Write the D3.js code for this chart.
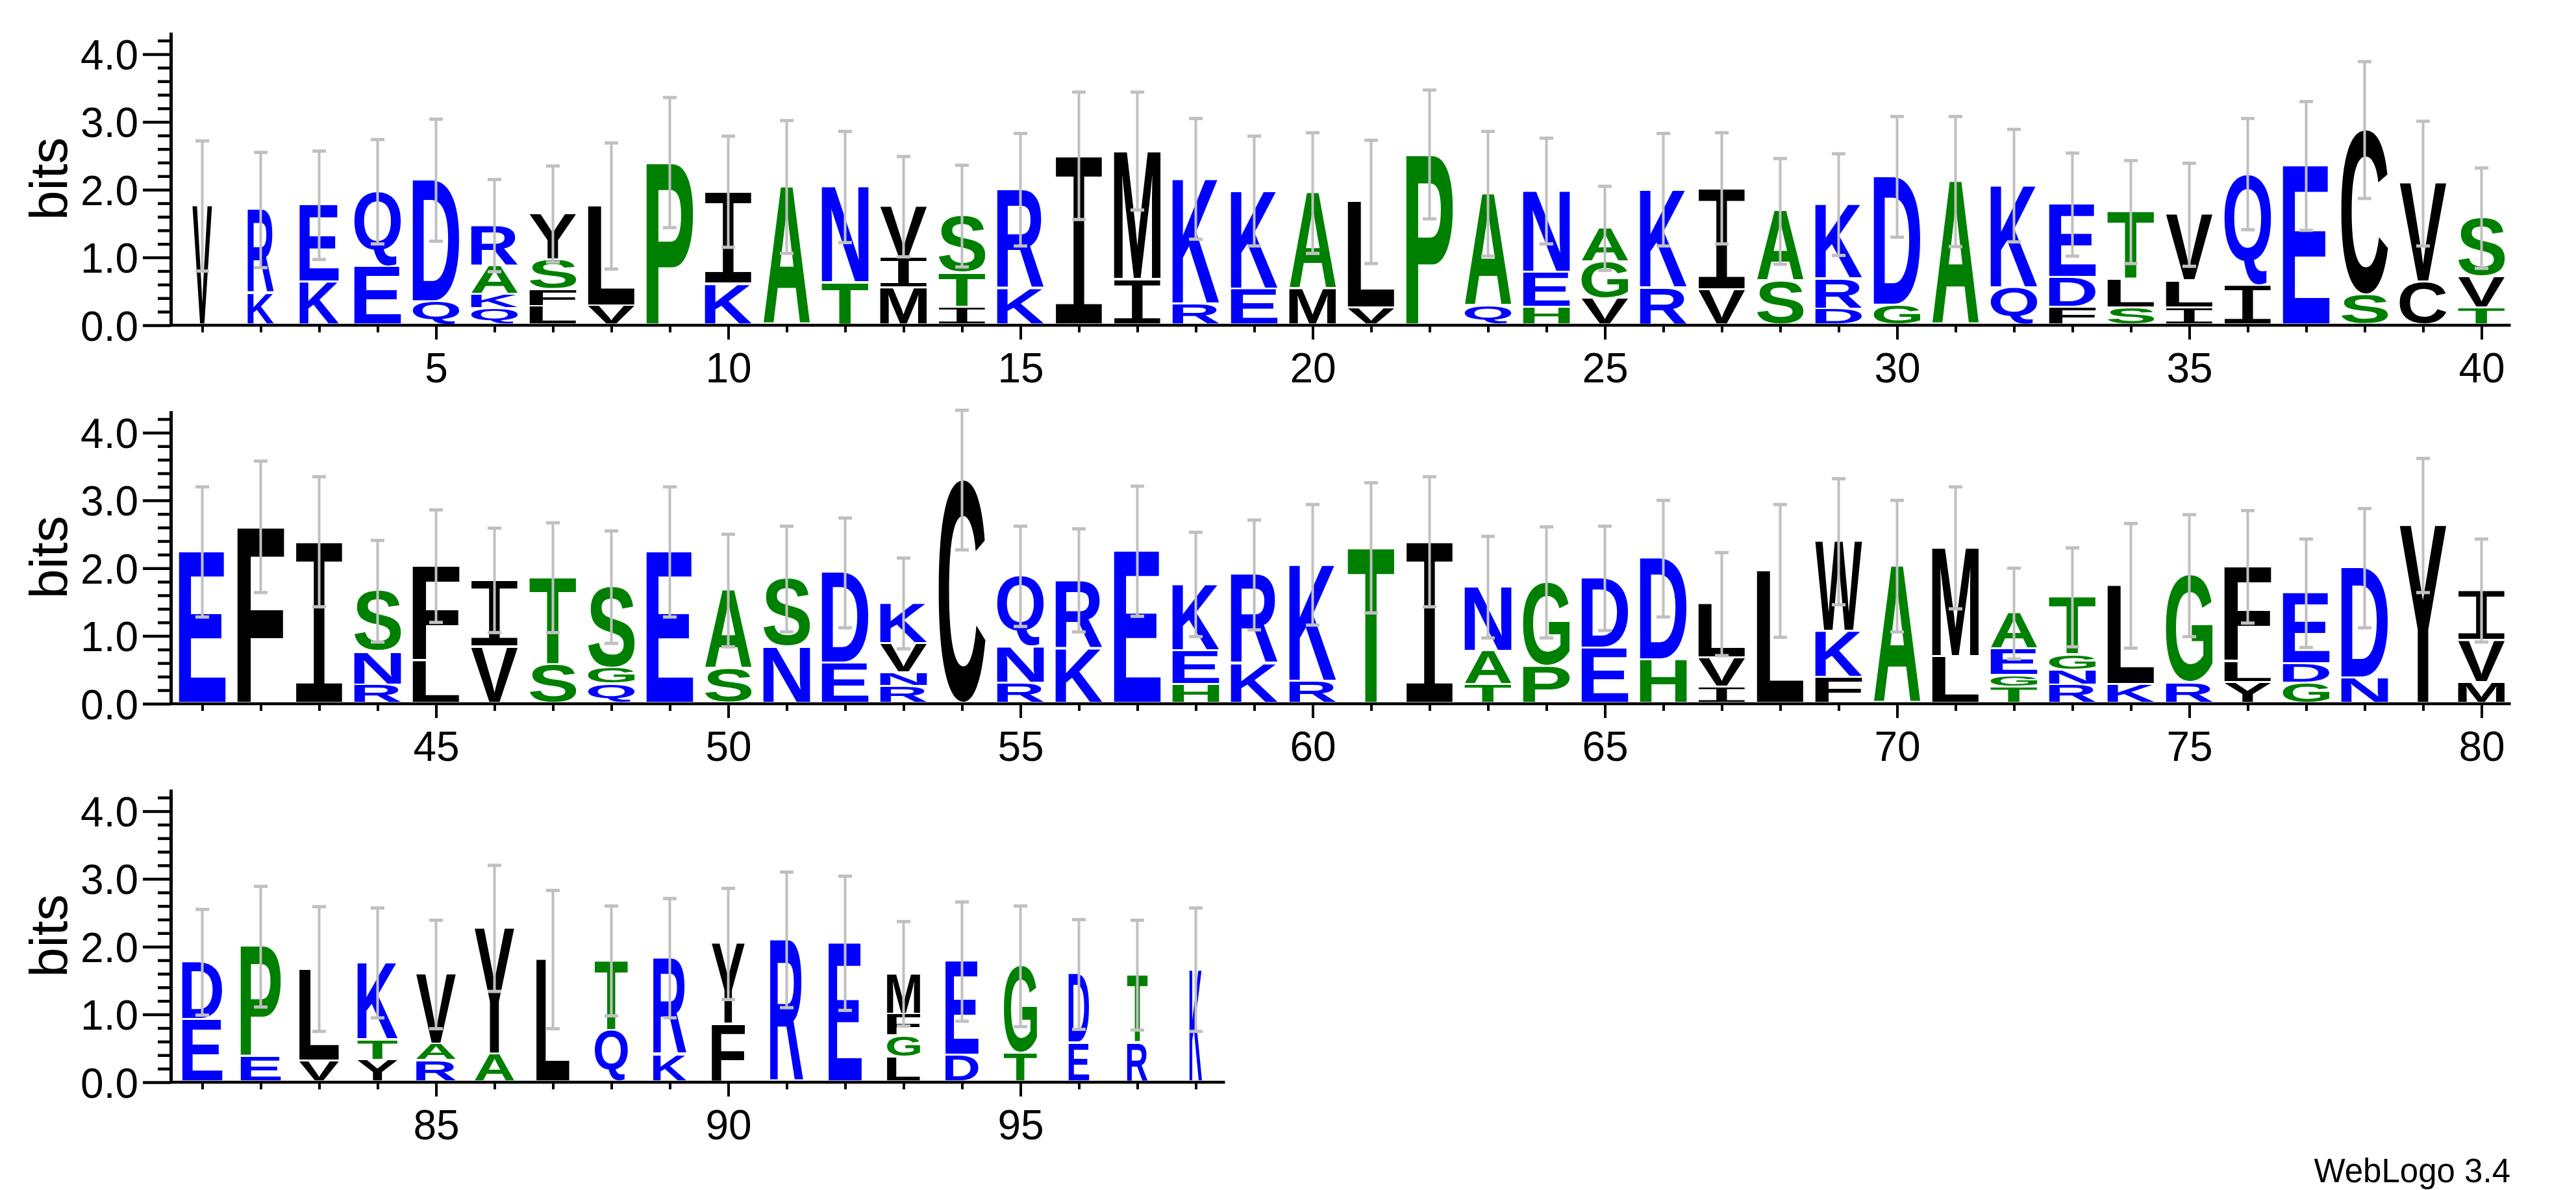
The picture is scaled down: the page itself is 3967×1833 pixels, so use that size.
<!DOCTYPE html>
<html>
<head>
<meta charset="utf-8">
<script src="https://cdn.jsdelivr.net/npm/d3@7"></script>
<style>
  body { margin: 0; background: #fff; }
  svg { display: block; }
</style>
</head>
<body>
<div id="logo"></div>
<script>
// letters of each stack, bottom to top
var stackLetters = [
  "V","KR","KE","EQ","QD","QKAR","LFSY","VL","P","KI",
  "A","TN","MIV","ITS","KR","I","IM","RK","EK","MA",
  "VL","P","QA","HEN","VGA","RK","VI","SA","DRK","GD",
  "A","QK","FDE","SLT","ILV","IQ","E","SC","CV","TVS",
  "E","F","I","RNS","LF","VI","ST","QGS","E","SA",
  "NS","ED","RNVK","C","RNQ","KR","E","HEK","KR","RK",
  "T","I","TAN","PG","ED","HD","IVL","L","FKW","A",
  "LM","TGEA","RNGT","KL","RG","YLF","GDE","ND","Y","MVI",
  "ED","EP","VL","YTK","RAV","AY","L","QT","KR","FY",
  "R","E","LGFM","DE","TG","ED","RT","K"
];

// bits per letter, same order
var stackBits = [
  [1.76],[0.46,1.24],[0.63,1.14],[0.86,1.11],[0.34,1.80],
  [0.24,0.21,0.42,0.60],[0.27,0.25,0.44,0.68],[0.28,1.48],[2.40],[0.60,1.37],
  [2.04],[0.62,1.42],[0.55,0.45,0.75],[0.26,0.50,0.85],[0.54,1.46],
  [2.50],[0.67,1.90],[0.31,1.85],[0.53,1.45],[0.53,1.42],
  [0.25,1.57],[2.52],[0.28,1.66],[0.26,0.52,1.20],[0.39,0.54,0.50],
  [0.55,1.45],[0.52,1.50],[0.64,1.04],[0.23,0.45,1.10],[0.29,1.90],
  [2.12],[0.55,1.51],[0.26,0.44,1.08],[0.25,0.42,1.00],[0.25,0.40,0.98],
  [0.58,1.65],[2.35],[0.44,2.44],[0.63,1.46],[0.25,0.46,0.87],
  [2.24],[2.61],[2.39],[0.27,0.49,0.90],[0.63,1.40],
  [0.83,0.99],[0.57,1.29],[0.28,0.24,1.20],[2.24],[0.51,1.16],
  [0.83,1.01],[0.59,1.34],[0.25,0.20,0.43,0.60],[3.30],[0.30,0.53,1.05],
  [0.81,1.01],[2.25],[0.28,0.50,0.98],[0.58,1.32],[0.33,1.72],
  [2.30],[2.39],[0.27,0.50,0.95],[0.55,1.24],[0.81,1.04],
  [0.64,1.50],[0.24,0.43,0.80],[1.96],[0.38,0.68,1.33],[2.03],
  [0.69,1.61],[0.24,0.17,0.39,0.53],[0.27,0.22,0.23,0.85],[0.28,1.46],[0.30,1.59],
  [0.31,0.31,1.40],[0.30,0.28,1.05],[0.37,1.63],[2.63],[0.31,0.62,0.74],
  [0.92,0.85],[0.37,1.63],[0.31,1.36],[0.32,0.30,1.14],[0.31,0.25,1.03],
  [0.41,1.86],[1.81],[0.76,1.03],[0.40,1.43],[0.85,1.19],
  [2.10],[2.05],[0.36,0.32,0.32,0.60],[0.39,1.39],[0.42,1.29],
  [0.57,1.02],[0.57,1.01],[1.66]
];

// error bar half-length in bits
var errorBits = [
  0.96,0.85,0.80,0.77,0.90,0.68,0.71,0.93,0.96,0.82,
  0.98,0.82,0.74,0.75,0.83,0.94,0.87,0.89,0.81,0.89,
  0.91,0.95,0.92,0.78,0.62,0.83,0.82,0.78,0.75,0.89,
  0.96,0.83,0.76,0.76,0.76,0.82,0.95,1.01,0.92,0.74,
  0.96,0.97,0.96,0.75,0.83,0.77,0.81,0.83,0.96,0.83,
  0.78,0.81,0.67,1.03,0.74,0.76,0.96,0.77,0.81,0.89,
  0.96,0.96,0.75,0.82,0.77,0.86,0.76,0.98,0.93,0.97,
  0.90,0.67,0.73,0.92,0.90,0.83,0.80,0.88,0.99,0.76,
  0.78,0.89,0.92,0.81,0.80,0.93,1.02,0.81,0.88,0.82,
  1.00,0.99,0.77,0.88,0.89,0.81,0.81,0.91
];

// stack width as fraction of a full column (gapped columns are narrower)
var stackWidths = [
  0.42,0.56,0.84,1,1,1,1,1,1,1, 1,1,1,1,1,1,1,1,1,1,
  1,1,1,1,1,1,1,1,1,1, 1,1,1,1,1,1,1,1,1,1,
  1,1,1,1,1,1,1,1,1,1, 1,1,1,1,1,1,1,1,1,1,
  1,1,1,1,1,1,1,1,1,1, 1,1,1,1,1,1,1,1,1,1,
  0.86,0.86,0.85,0.86,0.85,0.85,0.71,0.71,0.71,0.71,
  0.71,0.71,0.71,0.71,0.71,0.44,0.44,0.27
];

var rowStarts = [1, 41, 81];
var yMajorTicks = [0, 1, 2, 3, 4];
var maxBits = Math.log2(20);

// hydrophobicity colour scheme
var hydrophilic = "RKDENQ", neutral = "SGHTAP";
function letterColor(c) {
  if (hydrophilic.indexOf(c) >= 0) return "#0000ff";
  if (neutral.indexOf(c) >= 0) return "#008000";
  return "#000000";
}

// layout
var width = 3967, height = 1833;
var axisX = 263, firstSlot = 266.5, slotW = 90, glyphW = 72;
var baselines = [501, 1084, 1667];
var bitPx = 104.4;
var gap = 3;
var labelFont = "Liberation Sans";

var svg = d3.select("#logo").append("svg")
    .attr("width", width)
    .attr("height", height)
    .style("background", "#fff");

// I gets a serif face with a thin stem, like the WebLogo glyph
function glyphFont(c) { return c === "I" ? "Liberation Mono" : "Liberation Sans"; }
function glyphWeight(c) { return c === "I" ? "normal" : "bold"; }

// ink bounds of each glyph, so letters can be stretched to fill their box
var ctx = document.createElement("canvas").getContext("2d");
var boxes = {};
function inkBox(c) {
  if (!boxes[c]) {
    ctx.font = glyphWeight(c) + " 200px '" + glyphFont(c) + "'";
    var m = ctx.measureText(c);
    boxes[c] = { l: -m.actualBoundingBoxLeft, r: m.actualBoundingBoxRight,
                 t: -m.actualBoundingBoxAscent, b: m.actualBoundingBoxDescent };
  }
  return boxes[c];
}

rowStarts.forEach(function(start, r) {
  var end = Math.min(start + 39, stackLetters.length);
  var base = baselines[r];

  var x = d3.scaleLinear()
      .domain([start - 0.5, end + 0.5])
      .range([firstSlot, firstSlot + (end - start + 1) * slotW]);
  var y = d3.scaleLinear()
      .domain([0, maxBits])
      .range([base, base - maxBits * bitPx]);

  var row = svg.append("g");
  var positions = d3.range(start, end + 1);

  // letter stacks
  positions.forEach(function(p) {
    var i = p - 1, letters = stackLetters[i], bits = stackBits[i];
    var w = glyphW * stackWidths[i];
    var bottom = 0;
    for (var k = 0; k < letters.length; k++) {
      var c = letters[k], h = bits[k];
      var b = inkBox(c);
      var yTop = y(bottom + h), yBot = y(bottom) - gap;
      var sx = w / (b.r - b.l), sy = (yBot - yTop) / (b.b - b.t);
      row.append("text")
          .attr("transform", "translate(" + (x(p) - w / 2) + "," + yTop + ") scale(" + sx + "," + sy + ") translate(" + (-b.l) + "," + (-b.t) + ")")
          .attr("font-family", glyphFont(c))
          .attr("font-weight", glyphWeight(c))
          .attr("font-size", 200)
          .attr("fill", letterColor(c))
          .text(c);
      bottom += h;
    }
  });

  // error bars
  var bars = row.append("g").attr("fill", "#c0c0c0");
  positions.forEach(function(p) {
    var i = p - 1;
    var top = d3.sum(stackBits[i]), e = errorBits[i];
    var y1 = y(top + e), y2 = y(top - e);
    bars.append("rect").attr("x", x(p) - 2).attr("y", y1).attr("width", 4).attr("height", y2 - y1);
    bars.append("rect").attr("x", x(p) - 10.5).attr("y", y1 - 2.5).attr("width", 21).attr("height", 5);
    bars.append("rect").attr("x", x(p) - 10.5).attr("y", y2 - 2.5).attr("width", 21).attr("height", 5);
  });

  // y axis
  var yMinor = d3.range(1, 22).map(function(d) { return d / 5; })
      .filter(function(d) { return Math.abs(d - Math.round(d)) > 1e-6; });
  var yAxis = row.append("g")
      .attr("transform", "translate(" + axisX + ",0)")
      .call(d3.axisLeft(y).tickValues(yMajorTicks).tickSize(43).tickSizeOuter(0)
          .tickPadding(7).tickFormat(d3.format(".1f")));
  yAxis.select(".domain").attr("stroke-width", 5);
  yAxis.selectAll(".tick line").attr("stroke-width", 4.5);
  yAxis.selectAll(".tick text")
      .attr("font-family", labelFont).attr("font-size", 64).attr("dy", "0.36em");
  var yAxisMinor = row.append("g")
      .attr("transform", "translate(" + axisX + ",0)")
      .call(d3.axisLeft(y).tickValues(yMinor).tickSize(20).tickFormat(""));
  yAxisMinor.select(".domain").remove();
  yAxisMinor.selectAll(".tick line").attr("stroke-width", 4.5);

  row.append("text")
      .attr("transform", "translate(103," + y(maxBits / 2) + ") rotate(-90)")
      .attr("text-anchor", "middle")
      .attr("font-family", labelFont)
      .attr("font-size", 82)
      .text("bits");

  // x axis
  row.append("line")
      .attr("x1", axisX).attr("x2", x.range()[1])
      .attr("y1", base).attr("y2", base)
      .attr("stroke", "#000").attr("stroke-width", 4.5);
  var xMinor = row.append("g")
      .attr("transform", "translate(0," + base + ")")
      .call(d3.axisBottom(x).tickValues(positions).tickSize(11).tickFormat(""));
  xMinor.select(".domain").remove();
  xMinor.selectAll(".tick line").attr("stroke-width", 4);
  var xMajor = row.append("g")
      .attr("transform", "translate(0," + base + ")")
      .call(d3.axisBottom(x).tickValues(positions.filter(function(p) { return p % 5 === 0; }))
          .tickSize(22).tickPadding(21).tickFormat(d3.format("d")));
  xMajor.select(".domain").remove();
  xMajor.selectAll(".tick line").attr("stroke-width", 4);
  xMajor.selectAll(".tick text").attr("font-family", labelFont).attr("font-size", 64);
});

svg.append("text")
    .attr("x", 3866)
    .attr("y", 1821)
    .attr("text-anchor", "end")
    .attr("font-family", labelFont)
    .attr("font-size", 51)
    .text("WebLogo 3.4");
</script>
</body>
</html>
